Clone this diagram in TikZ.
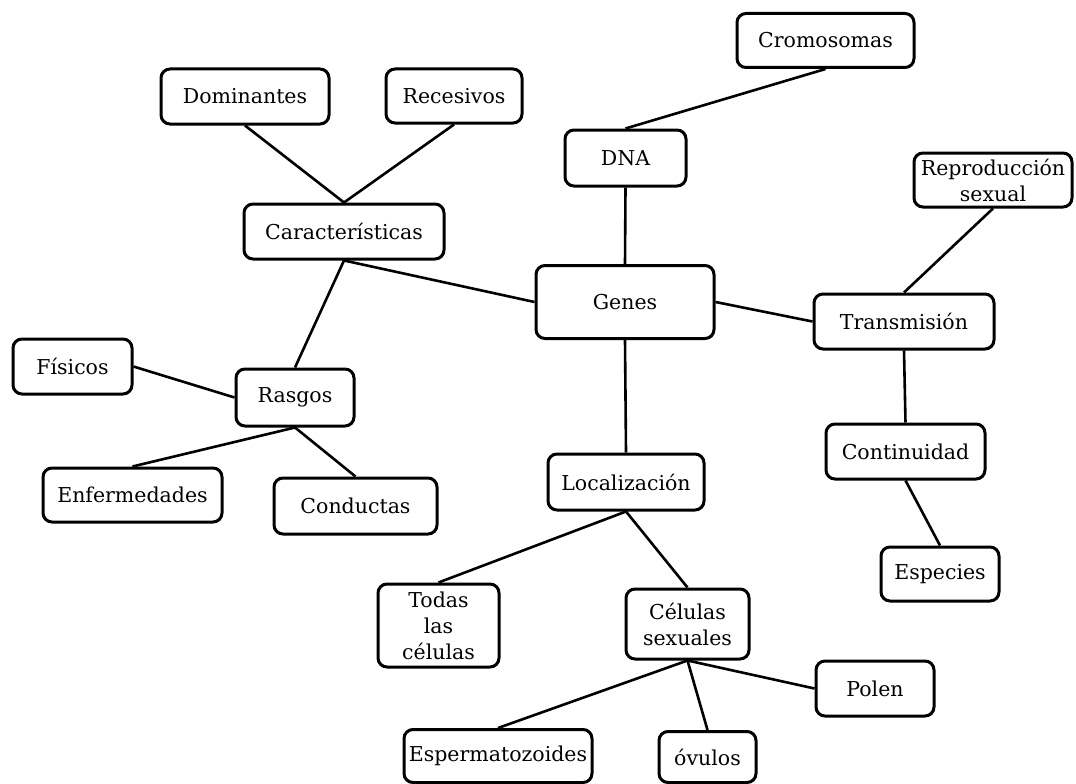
\documentclass[tikz,border=0pt]{standalone}
\usepackage{fontspec}
\setmainfont{DejaVu Serif}
\begin{document}
\begin{tikzpicture}[x=1pt,y=-1pt,
  box/.style 2 args={draw, line width=3pt, rounded corners=9pt, fill=white, inner sep=0pt, align=center,
     font=\fontsize{20.5}{26}\selectfont, minimum width=#1pt, minimum height=#2pt},
  link/.style={line width=2.6pt}]
\useasboundingbox (0,0) rectangle (1076,784);
\node[box={177}{54}] (crom) at (825.5,40.5) {Cromosomas};
\node[box={168}{55}] (dom) at (245,96.5) {Dominantes};
\node[box={136}{54}] (rec) at (454,96) {Recesivos};
\node[box={121}{56}] (dna) at (625.5,158) {DNA};
\node[box={158}{54}] (rep) at (993,180) {Reproducción\\sexual};
\node[box={200}{55}] (car) at (344,231.5) {Características};
\node[box={178}{73}] (genes) at (625,302) {Genes};
\node[box={180}{55}] (trans) at (904,321.5) {Transmisión};
\node[box={119}{55}] (fis) at (72.5,366.5) {Físicos};
\node[box={118}{57}] (ras) at (295,397.5) {Rasgos};
\node[box={179}{54}] (enf) at (132.5,495) {Enfermedades};
\node[box={163}{56}] (cond) at (355.5,506) {Conductas};
\node[box={159}{55}] (cont) at (905.5,451.5) {Continuidad};
\node[box={118}{54}] (espe) at (940,574) {Especies};
\node[box={156}{56}] (loc) at (626,482) {Localización};
\node[box={121}{83}] (todas) at (438.5,625.5) {Todas\\las\\células};
\node[box={123}{70}] (cs) at (687.5,624) {Células\\sexuales};
\node[box={118}{55}] (polen) at (875,688.5) {Polen};
\node[box={188}{53}] (espz) at (498,756) {Espermatozoides};
\node[box={97}{51}] (ovu) at (707.5,757) {óvulos};
\draw[link] (crom.south) -- (dna.north);
\draw[link] (dna.south) -- (genes.north);
\draw[link] (dom.south) -- (car.north);
\draw[link] (rec.south) -- (car.north);
\draw[link] (car.south) -- (genes.west);
\draw[link] (car.south) -- (ras.north);
\draw[link] (genes.east) -- (trans.west);
\draw[link] (rep.south) -- (trans.north);
\draw[link] (trans.south) -- (cont.north);
\draw[link] (cont.south) -- (espe.north);
\draw[link] (fis.east) -- (ras.west);
\draw[link] (ras.south) -- (enf.north);
\draw[link] (ras.south) -- (cond.north);
\draw[link] (genes.south) -- (loc.north);
\draw[link] (loc.south) -- (todas.north);
\draw[link] (loc.south) -- (cs.north);
\draw[link] (cs.south) -- (polen.west);
\draw[link] (cs.south) -- (espz.north);
\draw[link] (cs.south) -- (ovu.north);
\end{tikzpicture}
\end{document}
